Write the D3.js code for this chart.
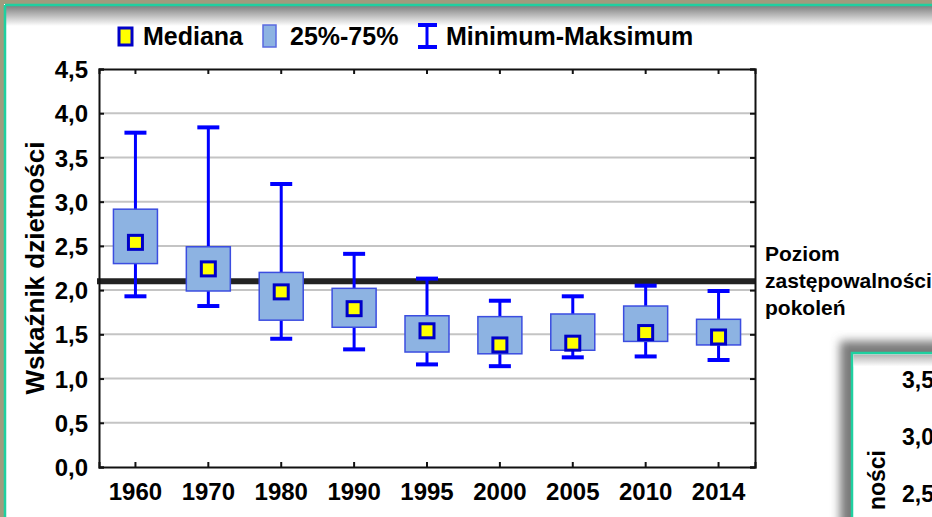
<!DOCTYPE html>
<html>
<head>
<meta charset="utf-8">
<script src="https://cdn.jsdelivr.net/npm/d3@7"></script>
<style>
  html, body { margin: 0; padding: 0; background: #a09c7e; }
  svg { display: block; }
  text { font-family: "Liberation Sans", Arial, sans-serif; font-weight: bold; fill: #000; }
</style>
</head>
<body>
<svg id="chart" width="932" height="517"></svg>
<script>
// data
const years = ['1960', '1970', '1980', '1990', '1995', '2000', '2005', '2010', '2014'];
const mins    = [1.93, 1.82, 1.45, 1.33, 1.16, 1.14, 1.24, 1.25, 1.21];
const q1      = [2.30, 1.99, 1.66, 1.58, 1.30, 1.28, 1.32, 1.42, 1.38];
const medians = [2.54, 2.24, 1.98, 1.79, 1.54, 1.38, 1.40, 1.52, 1.47];
const q3      = [2.915, 2.49, 2.20, 2.02, 1.71, 1.70, 1.73, 1.82, 1.67];
const maxs    = [3.78, 3.84, 3.20, 2.41, 2.13, 1.88, 1.93, 2.05, 1.99];
const yTicks = [0, 0.5, 1, 1.5, 2, 2.5, 3, 3.5, 4, 4.5];
const replacementLevel = 2.1;
const insetTicks = ['3,5', '3,0', '2,5'];

const svg = d3.select('#chart');
const W = 932, H = 517;
const plot = { left: 99, right: 755, top: 69, bottom: 467 };

const defs = svg.append('defs');
const grad = defs.append('linearGradient')
  .attr('id', 'topShade').attr('x1', 0).attr('y1', 0).attr('x2', 0).attr('y2', 1);
grad.append('stop').attr('offset', '0%').attr('stop-color', '#808080');
grad.append('stop').attr('offset', '100%').attr('stop-color', '#ffffff');
defs.append('filter').attr('id', 'blur')
  .attr('x', '-20%').attr('y', '-20%').attr('width', '140%').attr('height', '140%')
  .append('feGaussianBlur').attr('stdDeviation', 5);

// frame
svg.append('rect').attr('x', 4).attr('y', 4).attr('width', W).attr('height', H)
  .attr('fill', '#ffffff');
svg.append('rect').attr('x', 6).attr('y', 6).attr('width', W).attr('height', 20)
  .attr('fill', 'url(#topShade)');
svg.append('line').attr('x1', 5).attr('x2', W).attr('y1', 5).attr('y2', 5)
  .attr('stroke', '#1fd0a0').attr('stroke-width', 2.5);
svg.append('line').attr('x1', 5).attr('x2', 5).attr('y1', 5).attr('y2', H)
  .attr('stroke', '#1fd0a0').attr('stroke-width', 2.5);

const x = d3.scaleBand().domain(years).range([plot.left, plot.right]).padding(0);
const y = d3.scaleLinear().domain([0, 4.5]).range([plot.bottom, plot.top]);
const cx = d => x(d) + x.bandwidth() / 2;
const fmt = v => d3.format('.1f')(v).replace('.', ',');

// gridlines
svg.append('g').selectAll('line').data(yTicks.filter(v => v > 0 && v < 4.5)).enter()
  .append('line')
  .attr('x1', plot.left).attr('x2', plot.right)
  .attr('y1', d => y(d)).attr('y2', d => y(d))
  .attr('stroke', '#c4c4c4').attr('stroke-width', 2);

// replacement level line
svg.append('line')
  .attr('x1', plot.left - 2).attr('x2', plot.right)
  .attr('y1', y(replacementLevel)).attr('y2', y(replacementLevel))
  .attr('stroke', '#222').attr('stroke-width', 6);

// axes
const axisL = svg.append('g').attr('transform', `translate(${plot.left},0)`)
  .call(d3.axisLeft(y).tickValues(yTicks).tickSize(-5).tickPadding(11).tickFormat(fmt));
const axisR = svg.append('g').attr('transform', `translate(${plot.right},0)`)
  .call(d3.axisRight(y).tickValues(yTicks).tickSize(-5).tickFormat(''));
const axisB = svg.append('g').attr('transform', `translate(0,${plot.bottom})`)
  .call(d3.axisBottom(x).tickSize(-5).tickPadding(15));
const axisT = svg.append('g').attr('transform', `translate(0,${plot.top})`)
  .call(d3.axisTop(x).tickSize(-5).tickFormat(''));
[axisL, axisR, axisB, axisT].forEach(a => {
  a.select('.domain').attr('stroke', '#111').attr('stroke-width', 2);
  a.selectAll('.tick line').attr('stroke', '#111').attr('stroke-width', 2);
  a.selectAll('text').style('font-size', '24px').style('font-family', '"Liberation Sans", Arial, sans-serif')
    .style('font-weight', 'bold').attr('fill', '#000');
});
axisL.selectAll('text').attr('dy', '0.36em');
axisB.selectAll('text').attr('dy', '0.75em');

// y title
svg.append('text')
  .attr('transform', `translate(44,${(plot.top + plot.bottom) / 2}) rotate(-90)`)
  .attr('text-anchor', 'middle')
  .style('font-size', '26px')
  .text('Wskaźnik dzietności');

// boxes
const boxW = 44, capW = 22, medS = 14;
const marks = svg.append('g');
years.forEach((yr, i) => {
  const c = cx(yr);
  marks.append('line').attr('x1', c).attr('x2', c).attr('y1', y(mins[i])).attr('y2', y(maxs[i]))
    .attr('stroke', '#0000ff').attr('stroke-width', 3);
  [mins[i], maxs[i]].forEach(v => {
    marks.append('line').attr('x1', c - capW / 2).attr('x2', c + capW / 2)
      .attr('y1', y(v)).attr('y2', y(v))
      .attr('stroke', '#0000ff').attr('stroke-width', 4);
  });
  marks.append('rect').attr('x', c - boxW / 2).attr('width', boxW)
    .attr('y', y(q3[i])).attr('height', y(q1[i]) - y(q3[i]))
    .attr('fill', '#8db3e2').attr('stroke', '#3b4de0').attr('stroke-width', 1.5);
  marks.append('rect').attr('x', c - medS / 2).attr('width', medS)
    .attr('y', y(medians[i]) - medS / 2).attr('height', medS)
    .attr('fill', '#ffff00').attr('stroke', '#0000c8').attr('stroke-width', 3);
});

// legend
const lg = svg.append('g');
lg.append('rect').attr('x', 119).attr('y', 28).attr('width', 13).attr('height', 17)
  .attr('fill', '#ffff00').attr('stroke', '#0000c8').attr('stroke-width', 3);
lg.append('text').attr('x', 143).attr('y', 45).style('font-size', '25px').text('Mediana');
lg.append('rect').attr('x', 263).attr('y', 25).attr('width', 13).attr('height', 22)
  .attr('fill', '#8db3e2').attr('stroke', '#5a6ae0').attr('stroke-width', 1.5);
lg.append('text').attr('x', 290).attr('y', 45).style('font-size', '25px').text('25%-75%');
lg.append('line').attr('x1', 427).attr('x2', 427).attr('y1', 25).attr('y2', 47)
  .attr('stroke', '#0000ff').attr('stroke-width', 3);
[25, 47].forEach(v => lg.append('line').attr('x1', 418).attr('x2', 437).attr('y1', v).attr('y2', v)
  .attr('stroke', '#0000ff').attr('stroke-width', 4));
lg.append('text').attr('x', 446).attr('y', 45).style('font-size', '25px').text('Minimum-Maksimum');

// annotation
const ann = svg.append('text').attr('x', 765).attr('y', 261).style('font-size', '21px');
['Poziom', 'zastępowalności', 'pokoleń'].forEach((t, i) => {
  ann.append('tspan').attr('x', 765).attr('dy', i === 0 ? 0 : 27).text(t);
});

// inset panel (next chart peeking in)
svg.append('rect').attr('x', 840).attr('y', 341).attr('width', 120).attr('height', 200)
  .attr('fill', '#7a7a7a').attr('filter', 'url(#blur)');
svg.append('rect').attr('x', 852).attr('y', 353).attr('width', 100).attr('height', 180)
  .attr('fill', '#ffffff').attr('stroke', '#1fd0a0').attr('stroke-width', 2.5);
svg.append('rect').attr('x', 853.5).attr('y', 354.5).attr('width', 90).attr('height', 12)
  .attr('fill', 'url(#topShade)').attr('opacity', 0.6);
insetTicks.forEach((t, i) => {
  svg.append('text').attr('x', 902).attr('y', 388 + i * 57).style('font-size', '23px').text(t);
});
svg.append('text')
  .attr('transform', 'translate(885,450) rotate(-90)')
  .attr('text-anchor', 'end')
  .style('font-size', '23px')
  .text('ności');
</script>
</body>
</html>
